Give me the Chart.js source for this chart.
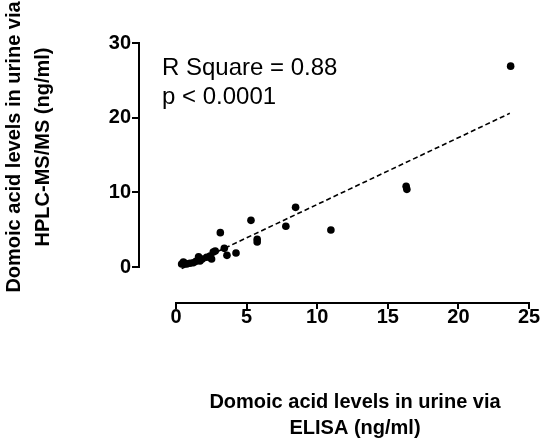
<!DOCTYPE html>
<html>
<head>
<meta charset="utf-8">
<script src="https://cdn.jsdelivr.net/npm/chart.js@4/dist/chart.umd.min.js"></script>
<style>
  body { margin: 0; background: #fff; }
  canvas { display: block; }
</style>
</head>
<body>
<canvas id="myScatterChart" width="550" height="443"></canvas>
<script>
// values
const elisaValues = [0.40, 0.52, 0.64, 0.76, 0.99, 1.22, 1.42, 1.60, 1.70, 1.86, 2.17, 2.41, 2.52, 2.64, 2.78, 3.14, 3.42, 3.61, 4.25, 5.31, 5.75, 5.75, 7.78, 8.47, 10.97, 16.30, 16.35, 23.70];
const hplcValues = [0.40, 0.67, 0.50, 0.40, 0.50, 0.58, 0.76, 1.38, 0.80, 1.07, 1.30, 1.47, 1.07, 2.00, 2.14, 4.60, 2.50, 1.56, 1.87, 6.25, 3.71, 3.35, 5.45, 7.99, 4.95, 10.80, 10.40, 26.90];

// dashed fit line, ends
const fitX = [0.40, 23.64];
const fitY = [-0.21, 20.58];

const xTicks = [0, 5, 10, 15, 20, 25];
const yTicks = [0, 10, 20, 30];

const yTitleLines = ['Domoic acid levels in urine via', 'HPLC-MS/MS (ng/ml)'];
const xTitleLines = ['Domoic acid levels in urine via', 'ELISA (ng/ml)'];
const statLines = ['R Square = 0.88', 'p < 0.0001'];

const FONT = '"Liberation Sans", Arial, sans-serif';

const scatterPoints = elisaValues.map((x, i) => ({ x: x, y: hplcValues[i] }));
const fitPoints = fitX.map((x, i) => ({ x: x, y: fitY[i] }));

// axes lines only over the data range, titles and stats text
const prismAxes = {
    id: 'prismAxes',
    afterDraw(chart) {
        const ctx = chart.ctx;
        const xs = chart.scales.x;
        const ys = chart.scales.y;
        const area = chart.chartArea;
        ctx.save();
        ctx.strokeStyle = '#000';
        ctx.lineWidth = 2;
        ctx.beginPath();
        ctx.moveTo(xs.getPixelForValue(xTicks[0]) - 1, area.bottom);
        ctx.lineTo(xs.getPixelForValue(xTicks[xTicks.length - 1]) + 1, area.bottom);
        ctx.moveTo(area.left, ys.getPixelForValue(yTicks[0]) + 1);
        ctx.lineTo(area.left, ys.getPixelForValue(yTicks[yTicks.length - 1]) - 1);
        ctx.stroke();

        ctx.fillStyle = '#000';
        ctx.font = 'bold 20px ' + FONT;
        ctx.textAlign = 'center';
        ctx.textBaseline = 'middle';
        ctx.fillText(xTitleLines[0], 355, 402);
        ctx.fillText(xTitleLines[1], 355, 428);

        ctx.save();
        ctx.translate(0, 147);
        ctx.rotate(-Math.PI / 2);
        ctx.fillText(yTitleLines[0], 0, 14);
        ctx.fillText(yTitleLines[1], 0, 43);
        ctx.restore();

        ctx.font = '24px ' + FONT;
        ctx.textAlign = 'left';
        ctx.textBaseline = 'alphabetic';
        ctx.fillText(statLines[0], 162, 75);
        ctx.fillText(statLines[1], 162, 104);
        ctx.restore();
    }
};

const scatterConfig = {
    type: 'scatter',
    data: {
        datasets: [{
            label: 'Samples',
            data: scatterPoints,
            pointRadius: 3.8,
            pointBackgroundColor: '#000',
            pointBorderWidth: 0,
            showLine: false
        }, {
            label: 'Fit',
            data: fitPoints,
            showLine: true,
            borderColor: '#000',
            borderWidth: 1.6,
            borderDash: [5, 3],
            pointRadius: 0,
            fill: false
        }]
    },
    options: {
        responsive: false,
        animation: false,
        devicePixelRatio: 1,
        layout: {
            padding: { top: 43, right: 21, left: 0, bottom: 0 }
        },
        plugins: {
            legend: { display: false },
            tooltip: { enabled: false }
        },
        scales: {
            x: {
                type: 'linear',
                min: -2.62,
                max: 25,
                afterBuildTicks: scale => { scale.ticks = xTicks.map(v => ({ value: v })); },
                afterFit: scale => { scale.height = 140; },
                border: { display: false },
                grid: { drawOnChartArea: false, drawTicks: true, tickLength: 6, color: '#000', lineWidth: 2 },
                ticks: { color: '#000', padding: -4, maxRotation: 0, font: { family: FONT, size: 20, weight: 'bold' } }
            },
            y: {
                type: 'linear',
                min: -4.82,
                max: 30,
                afterBuildTicks: scale => { scale.ticks = yTicks.map(v => ({ value: v })); },
                afterFit: scale => { scale.width = 139; },
                border: { display: false },
                grid: { drawOnChartArea: false, drawTicks: true, tickLength: 7, color: '#000', lineWidth: 2 },
                ticks: { color: '#000', padding: 1, font: { family: FONT, size: 20, weight: 'bold' } }
            }
        }
    },
    plugins: [prismAxes]
};

new Chart(
    document.getElementById('myScatterChart'),
    scatterConfig
);
</script>
</body>
</html>
